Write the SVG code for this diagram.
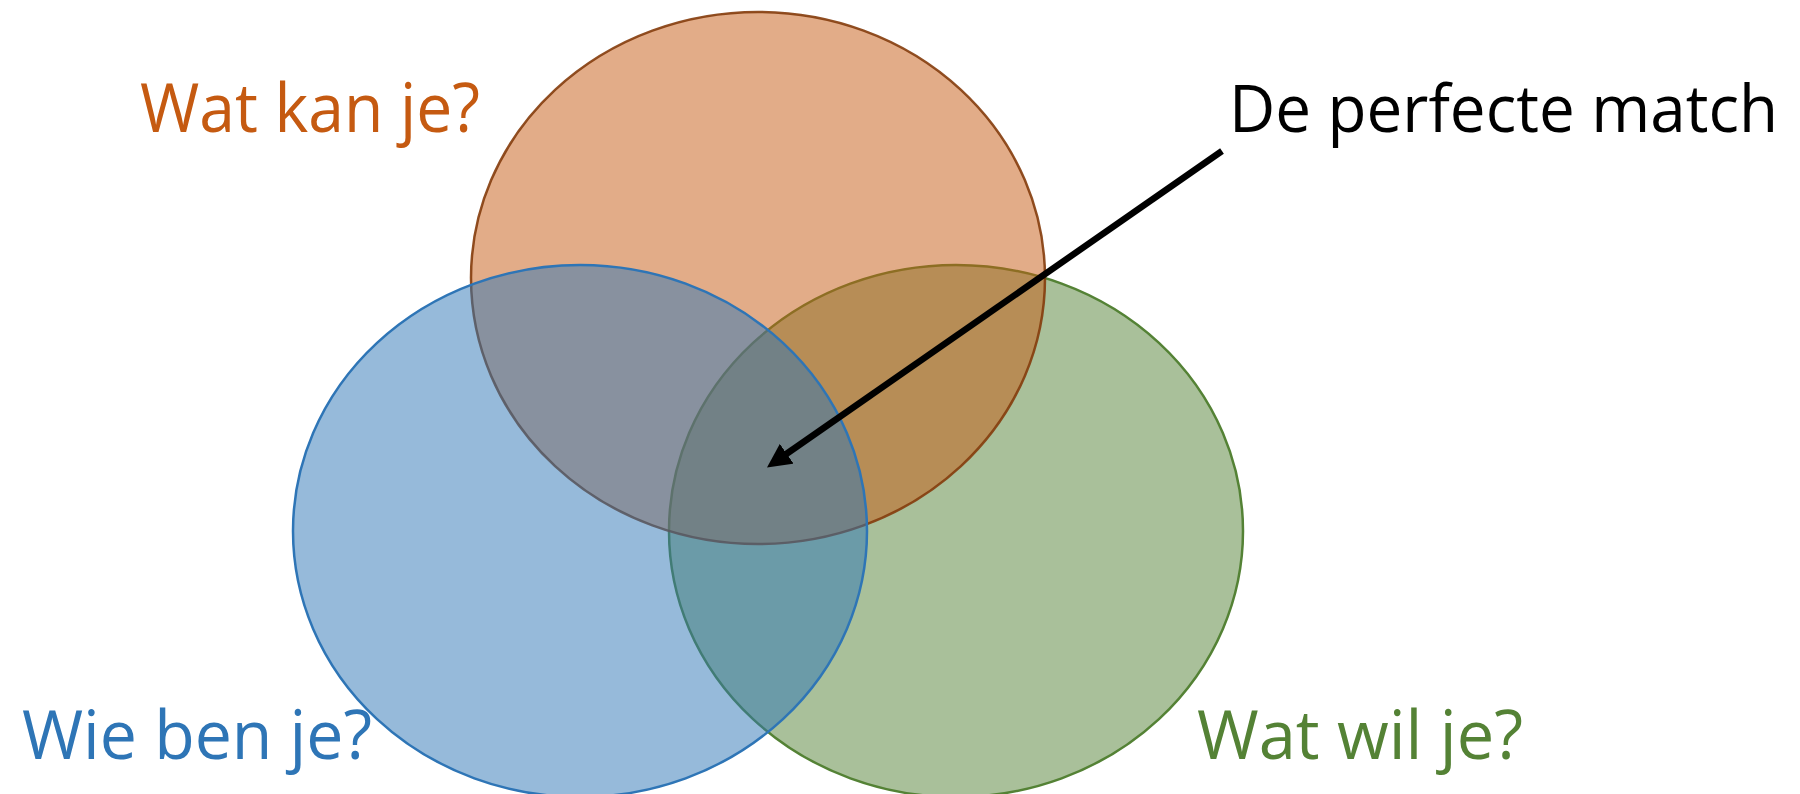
<svg xmlns="http://www.w3.org/2000/svg" width="1800" height="794" viewBox="0 0 1800 794">
<style>
.lbl{font-family:"Open Sans","Noto Sans","Liberation Sans",sans-serif;font-size:68px}
.c{fill-opacity:0.5;stroke-width:2.5}
</style>
<defs>
<marker id="ah" markerUnits="userSpaceOnUse" markerWidth="24" markerHeight="24" viewBox="0 0 24 24" refX="4" refY="12" orient="auto">
<path d="M0,0 L24,12 L0,24 z" fill="#000"/>
</marker>
</defs>
<rect width="1800" height="794" fill="#fff"/>
<g id="green">
<ellipse class="c" cx="956" cy="531" rx="287" ry="266" fill="#548235" stroke="#548235"/>
</g>
<g id="orange">
<ellipse class="c" cx="758" cy="278" rx="287" ry="266" fill="#C55A11" stroke="#843C0C" stroke-opacity="0.9"/>
</g>
<g id="blue">
<ellipse class="c" cx="580" cy="531" rx="287" ry="266" fill="#2E75B6" stroke="#2E75B6"/>
</g>
<g id="labels">
<text class="lbl" x="140" y="132" fill="#C55A11" textLength="340" lengthAdjust="spacingAndGlyphs">Wat kan je?</text>
<text class="lbl" x="22" y="759" fill="#2E75B6" textLength="350" lengthAdjust="spacingAndGlyphs">Wie ben je?</text>
<text class="lbl" x="1197" y="759" fill="#548235" textLength="326" lengthAdjust="spacingAndGlyphs">Wat wil je?</text>
<text class="lbl" x="1229" y="132" fill="#000" style="font-size:66px" textLength="549" lengthAdjust="spacingAndGlyphs">De perfecte match</text>
</g>
<g id="connectors">
<line x1="1222" y1="151" x2="783.4" y2="456" stroke="#000" stroke-width="6.5" marker-end="url(#ah)"/>
</g>
</svg>
